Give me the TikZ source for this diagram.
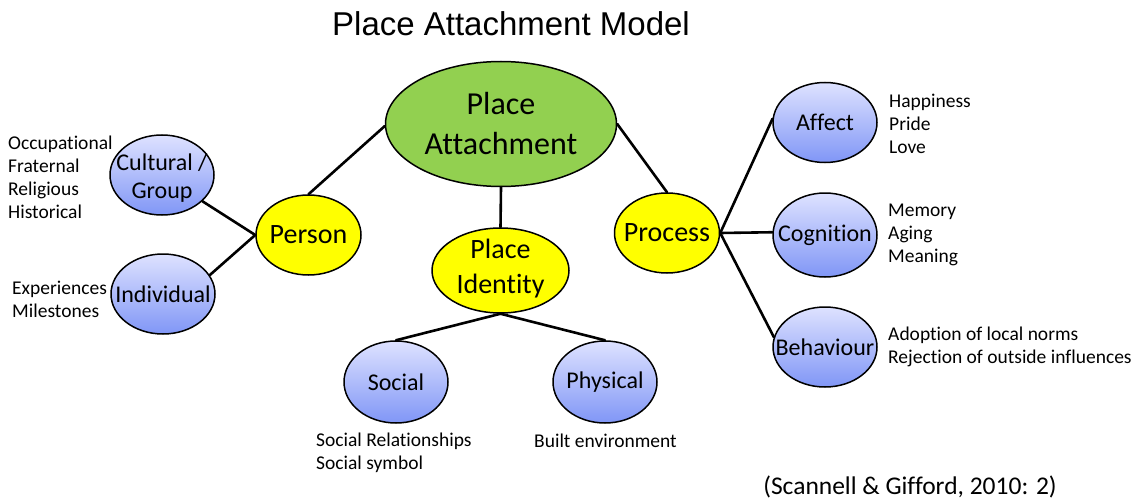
\documentclass[tikz,border=0pt]{standalone}
\usepackage{fontspec}
\setmainfont{Carlito}[Ligatures=NoCommon]
\newfontfamily\titlefont{Liberation Sans}
\usetikzlibrary{shapes.geometric}

\definecolor{pagreen}{RGB}{146,208,80}
\definecolor{payellow}{RGB}{255,255,0}
\definecolor{bluetop}{RGB}{222,226,255}
\definecolor{bluebot}{RGB}{128,150,246}

\tikzset{
  blob/.style 2 args={ellipse, draw=black, line width=1.5pt,
    minimum width=#1, minimum height=#2, inner sep=0pt},
  greenblob/.style={blob={231pt}{125pt}, fill=pagreen},
  yellowblob/.style={blob={105pt}{80pt}, fill=payellow},
  blueblob/.style={blob={104pt}{80pt}, top color=bluetop, bottom color=bluebot},
  biglabel/.style={font=\fontsize{32}{40}\selectfont, align=center, inner sep=0pt},
  midlabel/.style={font=\fontsize{28}{35}\selectfont, align=center, inner sep=0pt},
  smalllabel/.style={font=\fontsize{24}{28.5}\selectfont, align=center, inner sep=0pt},
  notes/.style={font=\fontsize{19.5}{23}\selectfont, align=left, inner sep=0pt, anchor=west},
  link/.style={line width=2.6pt, line cap=round}
}

\begin{document}
\begin{tikzpicture}[x=1pt, y=-1pt]
\useasboundingbox (0,0) rectangle (1134,500);

% title
\node[font=\titlefont\fontsize{33}{38}\selectfont] (title) at (511,24) {Place Attachment Model};

% central concept
\node[greenblob, label={[biglabel]center:{Place\\Attachment}}] (pa) at (501,124) {};

% three dimensions
\node[yellowblob, label={[midlabel]center:Person}] (person) at (308.5,235) {};
\node[yellowblob, minimum width=137pt, minimum height=85pt,
      label={[midlabel, yshift=2pt]center:{Place\\Identity}}] (pi) at (500.5,270.5) {};
\node[yellowblob, label={[midlabel]center:Process}] (process) at (667,233) {};

% person branches
\node[blueblob, label={[smalllabel, yshift=-3pt]center:{Cultural /\\Group}}] (cultural) at (162,175) {};
\node[blueblob, label={[smalllabel]center:Individual}] (individual) at (163,294) {};

% place branches
\node[blueblob, minimum height=82pt, label={[smalllabel]center:Social}] (social) at (396,382) {};
\node[blueblob, minimum height=82pt, label={[smalllabel]center:Physical}] (physical) at (605,382) {};

% process branches
\node[blueblob, label={[smalllabel]center:Affect}] (affect) at (825,122.5) {};
\node[blueblob, minimum height=84pt, label={[smalllabel]center:Cognition}] (cognition) at (825,235) {};
\node[blueblob, label={[smalllabel]center:Behaviour}] (behaviour) at (825,347) {};

% connectors
\draw[link] (pa.181) -- (person.90);
\draw[link] (pa.270) -- (pi.90);
\draw[link] (pa.0) -- (process.90);
\draw[link] (person.180) -- (cultural.-33);
\draw[link] (person.180) -- (individual.22);
\draw[link] (pi.270) -- (social.90);
\draw[link] (pi.270) -- (physical.90);
\draw[link] (process.0) -- (affect.176);
\draw[link] (process.0) -- (cognition.177);
\draw[link] (process.0) -- (behaviour.169);

% examples
\node[notes] (culturalnotes) at (8,177) {Occupational\\Fraternal\\Religious\\Historical};
\node[notes] (individualnotes) at (12,299) {Experiences\\Milestones};
\node[notes] (affectnotes) at (889,123.5) {Happiness\\Pride\\Love};
\node[notes] (cognitionnotes) at (888,235) {Memory\\Aging\\Meaning};
\node[notes] (behaviournotes) at (888,347) {Adoption of local norms\\Rejection of outside influences};
\node[notes] (socialnotes) at (316,452.5) {Social Relationships\\Social symbol};
\node[notes] (physicalnotes) at (534,441) {Built environment};

% source
\node[font=\fontsize{25.5}{30}\selectfont, inner sep=0pt] (source) at (910,487) {(Scannell \& Gifford, 2010: 2)};
\end{tikzpicture}
\end{document}
